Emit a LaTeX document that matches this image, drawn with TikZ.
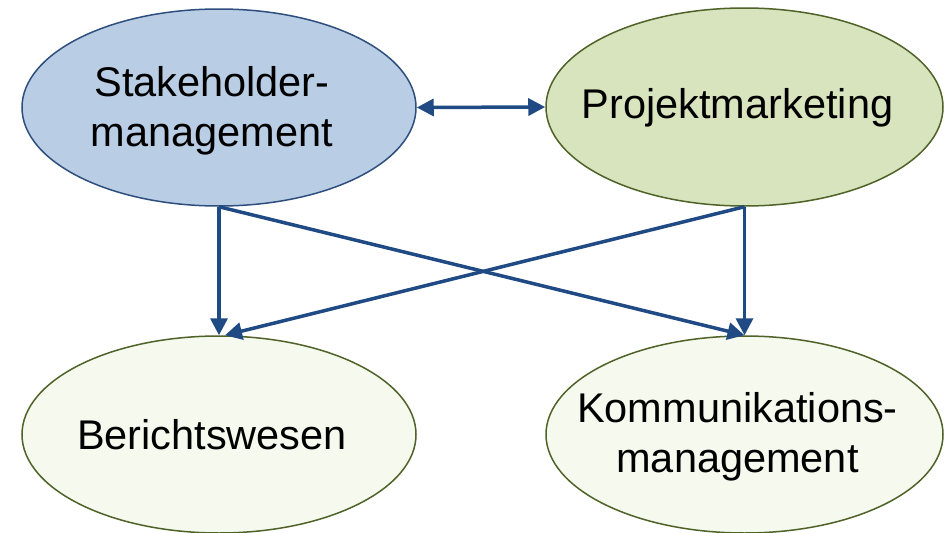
\documentclass[tikz,border=0pt]{standalone}
\usepackage{fontspec}
\setmainfont{Liberation Sans}
\usetikzlibrary{arrows.meta,shapes.geometric}
\definecolor{blueFill}{HTML}{B9CDE5}
\definecolor{blueLine}{HTML}{2E4F7E}
\definecolor{greenFill}{HTML}{D7E4BD}
\definecolor{paleFill}{HTML}{F5F9EE}
\definecolor{greenLine}{HTML}{4F6228}
\definecolor{arrowBlue}{HTML}{1F4A84}
\tikzset{
  bubble/.style={ellipse, minimum width=#1, line width=1.5pt, inner sep=0pt},
  label text/.style={align=center, font=\fontsize{41.5}{50}\selectfont, inner sep=0pt},
  conn/.style={draw=arrowBlue, line width=3.5pt, -{Triangle[length=17pt,width=17pt]}},
}
\begin{document}
\begin{tikzpicture}[x=1pt,y=-1pt]
\useasboundingbox (0,0) rectangle (946,533);
\fill[white] (0,0) rectangle (946,533);
\node[bubble=394pt, minimum height=197pt, fill=blueFill, draw=blueLine] (sh) at (219,107.5) {};
\node[label text] (tsh) at ([xshift=-7pt,yshift=-3pt]sh.center) {Stakeholder-\\management};
\node[bubble=397pt, minimum height=198pt, fill=greenFill, draw=greenLine] (pm) at (744.5,107) {};
\node[label text] (tpm) at ([xshift=-7pt,yshift=-1pt]pm.center) {Projektmarketing};
\node[bubble=394pt, minimum height=197pt, fill=paleFill, draw=greenLine] (bw) at (219,434.5) {};
\node[label text] (tbw) at ([xshift=-7pt]bw.center) {Berichtswesen};
\node[bubble=397pt, minimum height=197pt, fill=paleFill, draw=greenLine] (km) at (744.5,434.5) {};
\node[label text] (tkm) at ([xshift=-7pt,yshift=-2pt]km.center) {Kommunikations-\\management};
\draw[conn, {Triangle[length=17pt,width=17pt]}-{Triangle[length=17pt,width=17pt]}] (sh.east) -- (pm.west);
\draw[conn] (sh.south) -- (bw.north);
\draw[conn] (sh.south) -- (km.north);
\draw[conn] (pm.south) -- ([xshift=6pt]bw.north);
\draw[conn] (pm.south) -- (km.north);
\end{tikzpicture}
\end{document}
